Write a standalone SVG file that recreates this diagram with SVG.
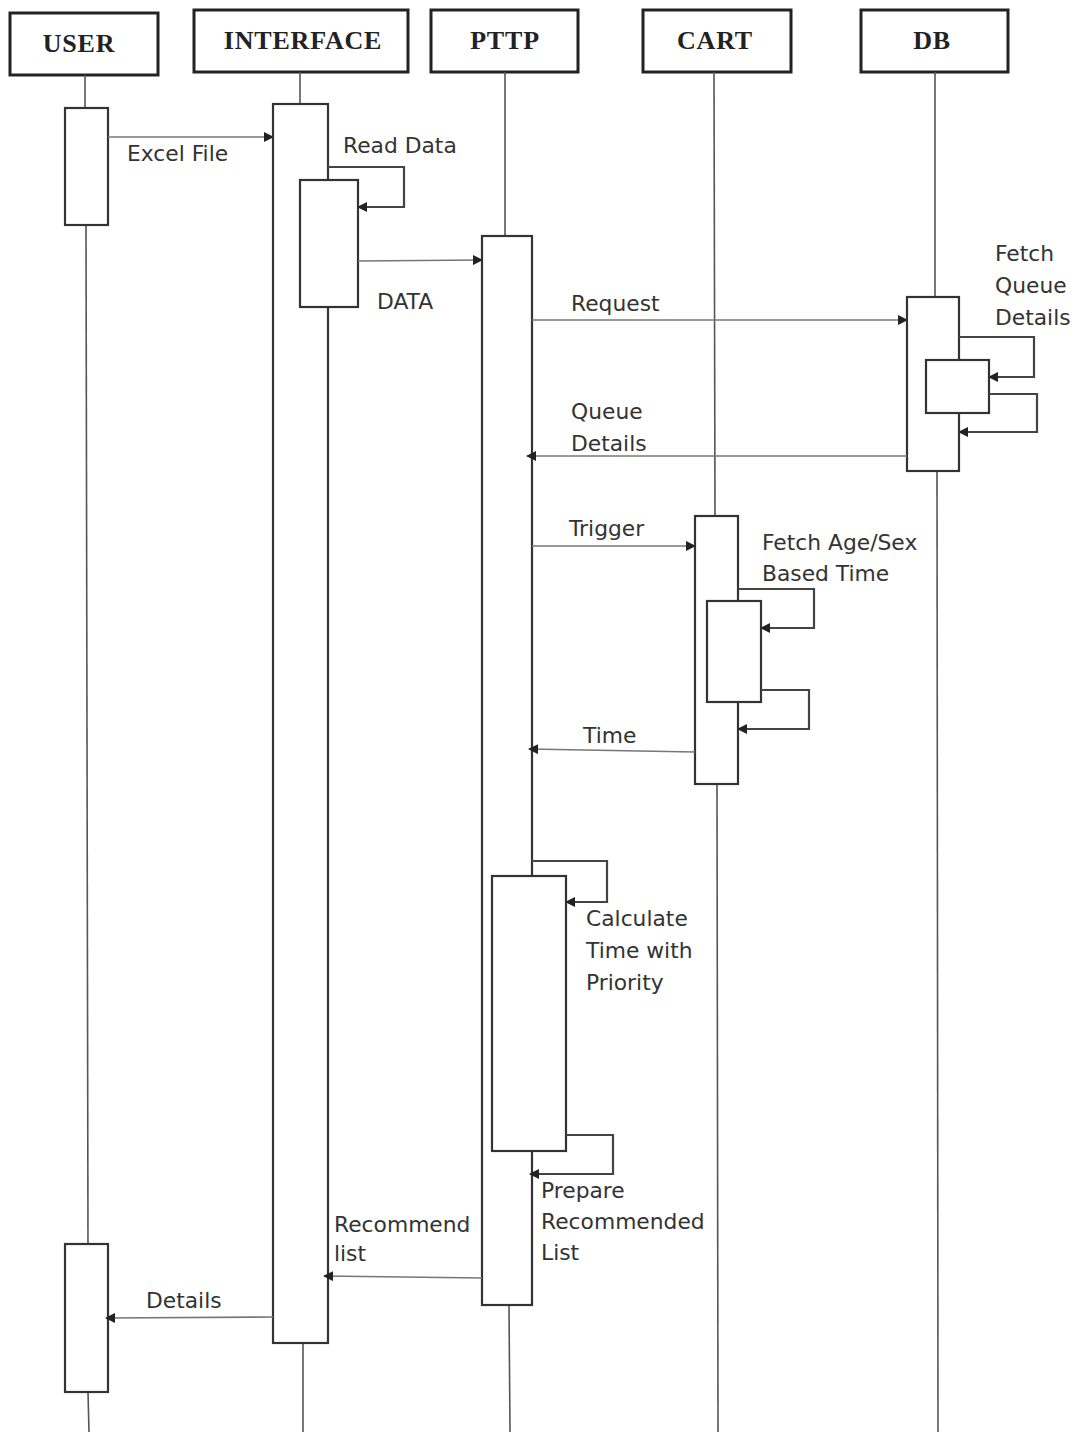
<svg xmlns="http://www.w3.org/2000/svg" width="1076" height="1432" viewBox="0 0 1076 1432">
<style>
.hdr{fill:#fff;stroke:#222;stroke-width:3}
.ht{font-family:"Liberation Serif",serif;font-weight:bold;font-size:26px;letter-spacing:0.8px;fill:#222;text-anchor:middle}
.life{stroke:#555;stroke-width:1.6;fill:none}
.act{fill:#fff;stroke:#333;stroke-width:2.2}
.msg{stroke:#777;stroke-width:1.6;fill:none}
.loop{stroke:#444;stroke-width:2.2;fill:none}
.lbl{font-family:"DejaVu Sans",sans-serif;font-size:21.8px;fill:#333}
</style>
<defs>
<marker id="ah" viewBox="0 0 10 10" refX="9" refY="5" markerWidth="10" markerHeight="10" markerUnits="userSpaceOnUse" orient="auto">
<path d="M0,0 L10,5 L0,10 z" fill="#222"/>
</marker>
</defs>
<rect width="1076" height="1432" fill="#fff"/>

<g id="user">
<rect class="hdr" x="10" y="13" width="148" height="62"/>
<text class="ht" x="79" y="52">USER</text>
<line class="life" x1="85" y1="75" x2="85" y2="108"/>
<line class="life" x1="86" y1="225" x2="88" y2="1244"/>
<line class="life" x1="88" y1="1392" x2="89" y2="1432"/>
<rect class="act" x="65" y="108" width="43" height="117"/>
<rect class="act" x="65" y="1244" width="43" height="148"/>
</g>

<g id="interface">
<rect class="hdr" x="194" y="10" width="214" height="62"/>
<text class="ht" x="303" y="49">INTERFACE</text>
<line class="life" x1="300" y1="72" x2="300" y2="104"/>
<line class="life" x1="303" y1="1343" x2="303" y2="1432"/>
<rect class="act" x="273" y="104" width="55" height="1239"/>
<rect class="act" x="300" y="180" width="58" height="127"/>
</g>

<g id="pttp">
<rect class="hdr" x="431" y="10" width="147" height="62"/>
<text class="ht" x="505" y="49">PTTP</text>
<line class="life" x1="505" y1="72" x2="505" y2="236"/>
<line class="life" x1="509" y1="1305" x2="510" y2="1432"/>
<rect class="act" x="482" y="236" width="50" height="1069"/>
<rect class="act" x="492" y="876" width="74" height="275"/>
</g>

<g id="cart">
<rect class="hdr" x="643" y="10" width="148" height="62"/>
<text class="ht" x="715" y="49">CART</text>
<line class="life" x1="714" y1="72" x2="715" y2="516"/>
<line class="life" x1="717" y1="784" x2="718" y2="1432"/>
<rect class="act" x="695" y="516" width="43" height="268"/>
<rect class="act" x="707" y="601" width="54" height="101"/>
</g>

<g id="db">
<rect class="hdr" x="861" y="10" width="147" height="62"/>
<text class="ht" x="932" y="49">DB</text>
<line class="life" x1="935" y1="72" x2="935" y2="297"/>
<line class="life" x1="937" y1="471" x2="938" y2="1432"/>
<rect class="act" x="907" y="297" width="52" height="174"/>
<rect class="act" x="926" y="360" width="63" height="53"/>
</g>

<g id="connectors">
<line class="msg" x1="108" y1="137" x2="273" y2="137" marker-end="url(#ah)"/>
<polyline class="loop" points="328,167 404,167 404,207 358,207" marker-end="url(#ah)"/>
<line class="msg" x1="358" y1="261" x2="482" y2="260" marker-end="url(#ah)"/>
<line class="msg" x1="532" y1="320" x2="907" y2="320" marker-end="url(#ah)"/>
<polyline class="loop" points="959,337 1034,337 1034,377 989,377" marker-end="url(#ah)"/>
<polyline class="loop" points="989,394 1037,394 1037,432 959,432" marker-end="url(#ah)"/>
<line class="msg" x1="907" y1="456" x2="527" y2="456" marker-end="url(#ah)"/>
<line class="msg" x1="532" y1="546" x2="695" y2="546" marker-end="url(#ah)"/>
<polyline class="loop" points="738,589 814,589 814,628 761,628" marker-end="url(#ah)"/>
<polyline class="loop" points="761,690 809,690 809,729 738,729" marker-end="url(#ah)"/>
<line class="msg" x1="695" y1="752" x2="529" y2="749" marker-end="url(#ah)"/>
<polyline class="loop" points="532,861 607,861 607,902 566,902" marker-end="url(#ah)"/>
<polyline class="loop" points="566,1135 613,1135 613,1174 530,1174" marker-end="url(#ah)"/>
<line class="msg" x1="482" y1="1278" x2="324" y2="1276" marker-end="url(#ah)"/>
<line class="msg" x1="273" y1="1317" x2="106" y2="1318" marker-end="url(#ah)"/>
</g>

<g id="labels">
<text class="lbl" x="127" y="161">Excel File</text>
<text class="lbl" x="343" y="153">Read Data</text>
<text class="lbl" x="377" y="309">DATA</text>
<text class="lbl" x="571" y="311">Request</text>
<text class="lbl" x="995" y="261">Fetch</text>
<text class="lbl" x="995" y="293">Queue</text>
<text class="lbl" x="995" y="325">Details</text>
<text class="lbl" x="571" y="419">Queue</text>
<text class="lbl" x="571" y="451">Details</text>
<text class="lbl" x="569" y="536">Trigger</text>
<text class="lbl" x="762" y="550">Fetch Age/Sex</text>
<text class="lbl" x="762" y="581">Based Time</text>
<text class="lbl" x="583" y="743">Time</text>
<text class="lbl" x="586" y="926">Calculate</text>
<text class="lbl" x="586" y="958">Time with</text>
<text class="lbl" x="586" y="990">Priority</text>
<text class="lbl" x="541" y="1198">Prepare</text>
<text class="lbl" x="541" y="1229">Recommended</text>
<text class="lbl" x="541" y="1260">List</text>
<text class="lbl" x="334" y="1232">Recommend</text>
<text class="lbl" x="334" y="1261">list</text>
<text class="lbl" x="146" y="1308">Details</text>
</g>
</svg>
